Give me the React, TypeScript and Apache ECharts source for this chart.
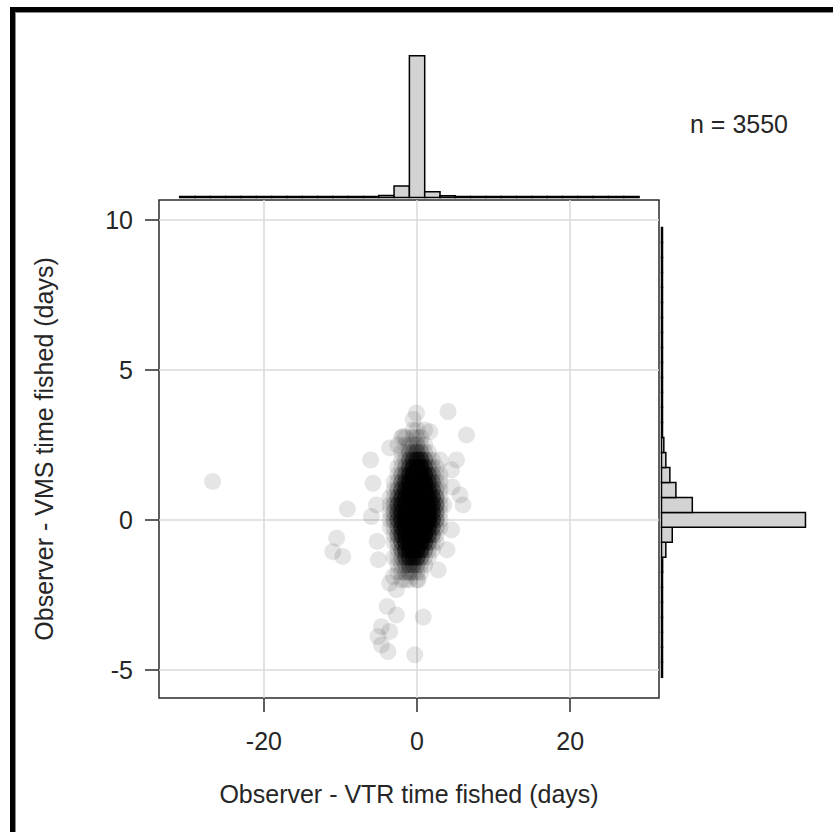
import React, { useEffect, useRef } from "react";
import * as echarts from "echarts";

const sampleLabel = "n = 3550";
const xTitle = "Observer - VTR time fished (days)";
const yTitle = "Observer - VMS time fished (days)";

const xTicks = [-20, 0, 20];
const yTicks = [-5, 0, 5, 10];

// Dense cloud: number of trips falling in each (x, y) cell
const coreX = [-4, -3.5, -3, -2.5, -2, -1.5, -1, -0.5, 0, 0.5, 1, 1.5, 2, 2.5, 3, 3.5, 4];
const coreY = [3.0, 2.75, 2.5, 2.25, 2.0, 1.75, 1.5, 1.25, 1.0, 0.75, 0.5, 0.25, 0.0, -0.25, -0.5, -0.75, -1.0, -1.25, -1.5, -1.75, -2.0];
const coreCounts = [
  [0, 0, 0, 0, 0, 0, 0, 1, 1, 0, 1, 0, 0, 0, 0, 0, 0],
  [0, 0, 0, 0, 1, 1, 0, 1, 1, 1, 0, 0, 0, 0, 0, 0, 0],
  [0, 0, 0, 1, 0, 1, 1, 1, 2, 1, 1, 0, 0, 0, 0, 0, 0],
  [0, 0, 0, 0, 1, 1, 2, 2, 3, 2, 1, 1, 0, 0, 0, 0, 0],
  [0, 0, 0, 0, 1, 1, 3, 5, 8, 6, 3, 1, 1, 0, 1, 0, 0],
  [0, 0, 0, 1, 1, 2, 4, 9, 13, 10, 5, 2, 1, 1, 0, 0, 0],
  [0, 0, 0, 1, 2, 3, 7, 13, 19, 15, 8, 4, 2, 1, 1, 0, 0],
  [0, 0, 1, 1, 3, 5, 11, 19, 27, 21, 12, 5, 3, 1, 1, 0, 0],
  [0, 0, 1, 2, 4, 7, 15, 25, 39, 29, 16, 7, 4, 2, 1, 0, 0],
  [0, 1, 1, 3, 6, 9, 19, 33, 58, 39, 20, 9, 6, 3, 1, 0, 0],
  [0, 1, 2, 4, 7, 12, 25, 49, 100, 59, 26, 10, 7, 4, 1, 1, 0],
  [0, 1, 2, 4, 7, 13, 33, 88, 290, 108, 33, 12, 7, 3, 1, 0, 0],
  [0, 1, 2, 4, 8, 15, 39, 158, 705, 198, 39, 14, 6, 3, 1, 0, 0],
  [0, 1, 1, 3, 7, 12, 30, 70, 158, 60, 22, 8, 4, 2, 1, 0, 0],
  [0, 0, 1, 3, 6, 10, 20, 30, 40, 22, 12, 5, 3, 1, 0, 0, 0],
  [0, 0, 1, 2, 4, 8, 14, 18, 20, 12, 6, 3, 1, 1, 0, 0, 0],
  [0, 0, 0, 1, 3, 6, 10, 12, 12, 7, 3, 1, 1, 0, 0, 0, 0],
  [0, 0, 1, 1, 2, 4, 7, 7, 6, 3, 1, 1, 0, 0, 0, 0, 0],
  [0, 0, 0, 1, 1, 2, 3, 3, 2, 1, 1, 0, 0, 0, 0, 0, 0],
  [0, 0, 0, 1, 1, 1, 2, 1, 1, 1, 0, 0, 0, 0, 0, 0, 0],
  [0, 0, 0, 0, 1, 1, 1, 0, 1, 0, 0, 0, 0, 0, 0, 0, 0],
];

// Individual trips away from the cloud
const strayX = [-26.7, -9.1, -10.5, -11.0, -9.7, -6.06, -5.75, -5.96, -5.3, -5.2, -5.05, 6.45, 4.05, -0.08, -0.5, 6.0, 5.6, 5.15, 4.5, 2.76, -3.1, -3.57, -2.7, 0.13, -3.9, -2.7, 0.8, -4.65, -3.57, -5.1, -4.65, -3.8, -0.3, -1.83, 1.66, -3.57, 4.6, 4.5, 3.9];
const strayY = [1.28, 0.36, -0.61, -1.06, -1.22, 2.0, 1.22, 0.11, 0.5, -0.72, -1.33, 2.83, 3.61, 3.56, 3.35, 0.5, 0.83, 2.0, 1.67, -1.67, -1.89, -2.11, -2.33, -2.0, -2.89, -3.17, -3.24, -3.56, -3.72, -3.89, -4.17, -4.39, -4.5, 2.78, 2.94, 2.4, 1.1, -0.33, -1.0];

// Marginal histogram of the VTR difference (top)
const vtrEdges = [-31, -29, -27, -25, -23, -21, -19, -17, -15, -13, -11, -9, -7, -5, -3, -1, 1, 3, 5, 7, 9, 11, 13, 15, 17, 19, 21, 23, 25, 27, 29];
const vtrCounts = [0, 0, 1, 0, 0, 0, 0, 0, 0, 0, 3, 1, 6, 42, 252, 3075, 124, 38, 8, 0, 0, 0, 0, 0, 0, 0, 0, 0, 0, 0];

// Marginal histogram of the VMS difference (right)
const vmsEdges = [-5.25, -4.75, -4.25, -3.75, -3.25, -2.75, -2.25, -1.75, -1.25, -0.75, -0.25, 0.25, 0.75, 1.25, 1.75, 2.25, 2.75, 3.25, 3.75, 4.25, 4.75, 5.25, 5.75, 6.25, 6.75, 7.25, 7.75, 8.25, 8.75, 9.25, 9.75];
const vmsCounts = [2, 3, 4, 3, 4, 5, 8, 18, 69, 171, 2290, 490, 229, 133, 69, 37, 12, 4, 0, 0, 0, 0, 0, 0, 0, 0, 0, 0, 0, 0];

const FONT = "Liberation Sans, Arial, Helvetica, sans-serif";
const TEXT = "#262626";
const POINT_ALPHA = 0.1;

export default function App() {
  const ref = useRef<HTMLDivElement>(null);

  useEffect(() => {
    if (!ref.current) return;
    const chart = echarts.init(ref.current, null, { renderer: "svg" });

    const points: any[] = [];
    coreY.forEach((y, r) => {
      coreX.forEach((x, c) => {
        const n = coreCounts[r][c];
        if (n > 0) {
          points.push({
            value: [x, y],
            itemStyle: { opacity: 1 - Math.pow(1 - POINT_ALPHA, n) },
          });
        }
      });
    });
    strayX.forEach((x, i) => {
      points.push({ value: [x, strayY[i]], itemStyle: { opacity: POINT_ALPHA } });
    });

    const topBins = vtrCounts.map((c, i) => [vtrEdges[i], vtrEdges[i + 1], c]);
    const rightBins = vmsCounts.map((c, i) => [vmsEdges[i], vmsEdges[i + 1], c]);

    const barStyle = { fill: "#d3d3d3", stroke: "#000", lineWidth: 1.5 };

    const xMin = -33.7, xMax = 31.6;
    const yMin = -5.94, yMax = 10.667;

    const tickStyle = { color: "#2b2b2b", width: 1.5 };
    const gridLine = { show: true, lineStyle: { color: "#dadada", width: 1.5 } };

    chart.setOption({
      animation: false,
      backgroundColor: "#fff",
      textStyle: { fontFamily: FONT },
      grid: [
        { left: 159, top: 200, width: 500, height: 498, show: true, borderColor: "#2b2b2b", borderWidth: 1.5, backgroundColor: "transparent" },
        { left: 159, top: 50, width: 500, height: 147.5 },
        { left: 661.5, top: 200, width: 160, height: 498 },
      ],
      xAxis: [
        {
          type: "value", gridIndex: 0, min: xMin, max: xMax, splitNumber: 3,
          name: xTitle, nameLocation: "middle", nameGap: 83,
          nameTextStyle: { fontSize: 25, color: TEXT, fontFamily: FONT },
          axisLine: { show: false, onZero: false },
          axisTick: { show: true, length: 14, lineStyle: tickStyle, customValues: xTicks },
          axisLabel: { fontSize: 25, color: TEXT, margin: 30, fontFamily: FONT, customValues: xTicks },
          splitLine: gridLine,
        },
        { type: "value", gridIndex: 1, min: xMin, max: xMax, show: false },
        { type: "value", gridIndex: 2, min: 0, max: 2545, show: false },
      ],
      yAxis: [
        {
          type: "value", gridIndex: 0, min: yMin, max: yMax, splitNumber: 3,
          name: yTitle, nameLocation: "middle", nameGap: 103,
          nameTextStyle: { fontSize: 25, color: TEXT, fontFamily: FONT },
          axisLine: { show: false, onZero: false },
          axisTick: { show: true, length: 14, lineStyle: tickStyle, customValues: yTicks },
          axisLabel: { fontSize: 25, color: TEXT, margin: 26, fontFamily: FONT, customValues: yTicks },
          splitLine: gridLine,
        },
        { type: "value", gridIndex: 1, min: 0, max: 3200, show: false },
        { type: "value", gridIndex: 2, min: yMin, max: yMax, show: false },
      ],
      series: [
        {
          type: "scatter",
          xAxisIndex: 0,
          yAxisIndex: 0,
          symbol: "circle",
          symbolSize: 17,
          itemStyle: { color: "#000" },
          data: points,
          z: 3,
        },
        {
          type: "custom",
          xAxisIndex: 1,
          yAxisIndex: 1,
          clip: false,
          data: topBins,
          renderItem: (params: any, api: any) => {
            const p0 = api.coord([api.value(0), 0]);
            const p1 = api.coord([api.value(1), api.value(2)]);
            const h = Math.max(p0[1] - p1[1], 1);
            return {
              type: "rect",
              shape: { x: p0[0], y: p0[1] - h, width: p1[0] - p0[0], height: h },
              style: barStyle,
            };
          },
        },
        {
          type: "custom",
          xAxisIndex: 2,
          yAxisIndex: 2,
          clip: false,
          data: rightBins,
          renderItem: (params: any, api: any) => {
            const p0 = api.coord([0, api.value(0)]);
            const p1 = api.coord([api.value(2), api.value(1)]);
            return {
              type: "rect",
              shape: { x: p0[0], y: p1[1], width: Math.max(p1[0] - p0[0], 1), height: p0[1] - p1[1] },
              style: barStyle,
            };
          },
        },
      ],
      graphic: [
        { type: "rect", shape: { x: 10, y: 7, width: 830, height: 5 }, style: { fill: "#000" } },
        { type: "rect", shape: { x: 10, y: 7, width: 5, height: 830 }, style: { fill: "#000" } },
        { type: "line", shape: { x1: 15, y1: 12.5, x2: 840, y2: 12.5 }, style: { stroke: "#8c8c8c", lineWidth: 1 } },
        { type: "line", shape: { x1: 15.5, y1: 12, x2: 15.5, y2: 840 }, style: { stroke: "#8c8c8c", lineWidth: 1 } },
        {
          type: "text",
          style: { text: sampleLabel, x: 690, y: 124, font: `25px ${FONT}`, fill: TEXT, verticalAlign: "middle", align: "left" },
        },
      ],
    });

    return () => chart.dispose();
  }, []);

  return <div ref={ref} style={{ position: "fixed", left: 0, top: 0, width: 833, height: 832 }} />;
}
